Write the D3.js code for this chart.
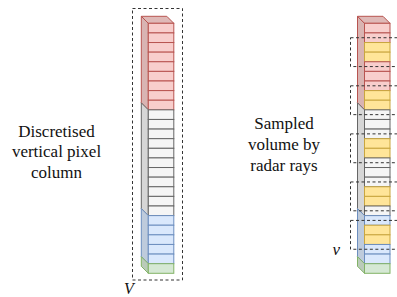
<!DOCTYPE html>
<html>
<head>
<meta charset="utf-8">
<script src="https://cdn.jsdelivr.net/npm/d3@7"></script>
<style>
  body { margin: 0; background: #fff; }
  svg text { font-family: "Liberation Serif", "Times New Roman", Times, serif; }
</style>
</head>
<body>
<div id="chart"></div>
<script>
// column layers, top to bottom
const layerNames = ['top', 'middle', 'lower', 'ground'];
const layerCells = [9, 11, 5, 1];
const layerFills = ['#f8cecc', '#f5f5f5', '#dae8fc', '#d5e8d4'];
const layerStrokes = ['#b85450', '#666666', '#6c8ebf', '#82b366'];

// cells hit by the radar rays (right column)
const sampledCells = [2, 3, 7, 8, 12, 13, 17, 18, 21, 22];
// each ray box is centred on the boundary between its two sampled cells
const rayCentres = [3, 8, 13, 18, 22];

const leftLabel = ['Discretised', 'vertical pixel', 'column'];
const rightLabel = ['Sampled', 'volume by', 'radar rays'];

const width = 397;
const height = 297;
const depth = 7;
const cellWidth = 25.5;
const totalCells = d3.sum(layerCells);

const svg = d3.select('#chart')
  .append('svg')
  .attr('width', width)
  .attr('height', height);

const y = d3.scaleLinear().domain([0, totalCells]).range([23.3, 273.3]);

const layers = [];
let start = 0;
layerNames.forEach((name, i) => {
  layers.push({ name, start, count: layerCells[i], fill: layerFills[i], stroke: layerStrokes[i] });
  start += layerCells[i];
});

function drawColumn(x0, sampled) {
  const g = svg.append('g');
  const xs = d3.scaleLinear().domain([0, 1]).range([x0, x0 + cellWidth]);

  layers.forEach((layer, li) => {
    const y0 = y(layer.start);
    const y1 = y(layer.start + layer.count);
    const side = d3.color(layer.fill).darker(0.38);

    // left side face
    g.append('path')
      .attr('d', `M${x0 - depth},${y0 - depth}L${x0},${y0}L${x0},${y1}L${x0 - depth},${y1 - depth}Z`)
      .attr('fill', side)
      .attr('stroke', layer.stroke)
      .attr('stroke-width', 1);

    // top face only for the first layer
    if (li === 0) {
      g.append('path')
        .attr('d', `M${x0},${y0}L${xs(1)},${y0}L${xs(1) - depth},${y0 - depth}L${x0 - depth},${y0 - depth}Z`)
        .attr('fill', d3.color(layer.fill).darker(0.3))
        .attr('stroke', layer.stroke)
        .attr('stroke-width', 1);
    }

    const cells = d3.range(layer.start, layer.start + layer.count);
    g.selectAll(null)
      .data(cells)
      .enter()
      .append('rect')
      .attr('x', xs(0))
      .attr('y', (d) => y(d))
      .attr('width', xs(1) - xs(0))
      .attr('height', y(1) - y(0))
      .attr('fill', (d) => (sampled.includes(d) ? '#ffe599' : layer.fill))
      .attr('stroke', (d) => (sampled.includes(d) ? '#c9a63f' : layer.stroke))
      .attr('stroke-width', 1);
  });
  return g;
}

drawColumn(148.3, []);
drawColumn(364.5, sampledCells);

// dashed outline of the pixel column
svg.append('rect')
  .attr('x', 132.5)
  .attr('y', 8.5)
  .attr('width', 50)
  .attr('height', 271.5)
  .attr('fill', 'none')
  .attr('stroke', '#333')
  .attr('stroke-dasharray', '3,2.5');

// dashed ray boxes
svg.selectAll('.ray')
  .data(rayCentres)
  .enter()
  .append('rect')
  .classed('ray', true)
  .attr('x', 350.5)
  .attr('y', (d) => y(d - 1.5))
  .attr('width', 60)
  .attr('height', (d) => y(d + 1.5) - y(d - 1.5))
  .attr('fill', 'none')
  .attr('stroke', '#333')
  .attr('stroke-dasharray', '3,2.5');

// labels
svg.append('text')
  .attr('x', 56.5)
  .attr('y', 136.5)
  .attr('text-anchor', 'middle')
  .attr('font-size', '17px')
  .attr('fill', '#111')
  .selectAll('tspan')
  .data(leftLabel)
  .enter()
  .append('tspan')
  .attr('x', 56.5)
  .attr('dy', (d, i) => (i === 0 ? 0 : 20.5))
  .text((d) => d);

svg.append('text')
  .attr('x', 284)
  .attr('y', 128.5)
  .attr('text-anchor', 'middle')
  .attr('font-size', '17px')
  .attr('fill', '#111')
  .selectAll('tspan')
  .data(rightLabel)
  .enter()
  .append('tspan')
  .attr('x', 284)
  .attr('dy', (d, i) => (i === 0 ? 0 : 21))
  .text((d) => d);

svg.append('text')
  .attr('x', 124)
  .attr('y', 294)
  .attr('font-size', '16px')
  .attr('font-style', 'italic')
  .attr('fill', '#111')
  .text('V');

svg.append('text')
  .attr('x', 332.5)
  .attr('y', 255)
  .attr('font-size', '17px')
  .attr('font-style', 'italic')
  .attr('fill', '#111')
  .text('v');
</script>
</body>
</html>
